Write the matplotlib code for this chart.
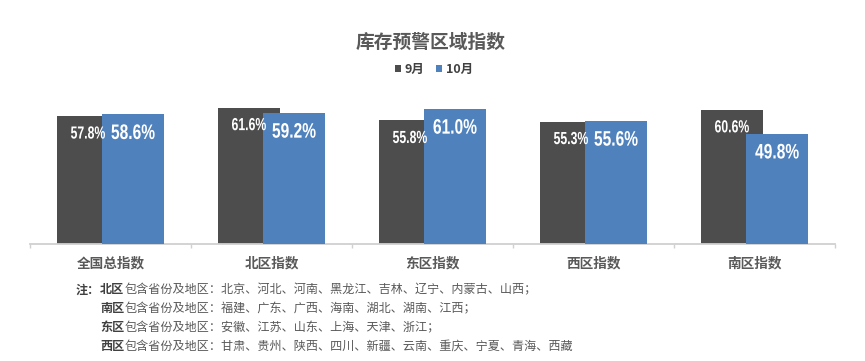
import numpy as np
import matplotlib
matplotlib.use('Agg')
import matplotlib.pyplot as plt
from matplotlib.textpath import TextPath
from matplotlib.patches import PathPatch
from matplotlib.font_manager import FontProperties
from matplotlib.transforms import Affine2D, IdentityTransform

plt.rcParams['font.family'] = ['Noto Sans CJK SC', 'DejaVu Sans']

# datos
categorias = ['全国总指数', '北区指数', '东区指数', '西区指数', '南区指数']
sep = [57.8, 61.6, 55.8, 55.3, 60.6]
octb = [58.6, 59.2, 61.0, 55.6, 49.8]
series = ['9月', '10月']

notas_region = ['北区', '南区', '东区', '西区']
notas_texto = [
    '包含省份及地区：北京、河北、河南、黑龙江、吉林、辽宁、内蒙古、山西；',
    '包含省份及地区：福建、广东、广西、海南、湖北、湖南、江西；',
    '包含省份及地区：安徽、江苏、山东、上海、天津、浙江；',
    '包含省份及地区：甘肃、贵州、陕西、四川、新疆、云南、重庆、宁夏、青海、西藏',
]

c_sep = '#4d4d4d'
c_oct = '#4f81bd'
fp_num = FontProperties(family=['Liberation Sans', 'DejaVu Sans'], weight='bold')

fig = plt.figure(figsize=(8.65, 3.61), dpi=100)
ax = fig.add_axes([30 / 865, 117 / 361, 805 / 865, 155 / 361])

x = np.arange(len(categorias))
w = 0.383
off = 0.14
b1 = ax.bar(x - off, sep, w, color=c_sep, zorder=2)
b2 = ax.bar(x + off, octb, w, color=c_oct, zorder=3)

ax.set_xlim(-0.5, len(categorias) - 0.5)
ax.set_ylim(0, 70)


# texto estrecho (tipo Impact / Narrow) dibujado como trayectoria escalada
def etiqueta_estrecha(xd, yd, s, em, sx, dy):
    tp = TextPath((0, 0), s, size=em, prop=fp_num)
    ext = tp.get_extents()
    cx = (ext.x0 + ext.x1) / 2
    cy = (ext.y0 + ext.y1) / 2
    px, py = ax.transData.transform((xd, yd))
    tr = Affine2D().translate(-cx, -cy).scale(sx, 1).translate(px, py - dy)
    ax.add_artist(PathPatch(tp, transform=tr + IdentityTransform(), facecolor='white',
                            edgecolor='none', zorder=5))


for xi, v in zip(x, sep):
    etiqueta_estrecha(xi - off, v, f'{v:.1f}%', 17.5, 0.70, 16.5)
for xi, v in zip(x, octb):
    etiqueta_estrecha(xi + off, v, f'{v:.1f}%', 21, 0.74, 17.5)

for s in ['top', 'right', 'left']:
    ax.spines[s].set_visible(False)
ax.spines['bottom'].set_color('#d0d0d0')
ax.spines['bottom'].set_linewidth(1.3)
ax.set_yticks([])
ax.set_xticks(np.arange(-0.5, len(categorias)), labels=[''] * (len(categorias) + 1))
ax.tick_params(axis='x', which='major', length=3, color='#d0d0d0', width=1)
ax.set_xticks(x, labels=categorias, minor=True)
ax.tick_params(axis='x', which='minor', length=0, pad=9, labelsize=9.8, labelcolor='#595959')
for lab in ax.get_xticklabels(minor=True):
    lab.set_fontweight('bold')

# titulo y leyenda
fig.text(431 / 865, 1 - 42 / 361, '库存预警区域指数', ha='center', va='center',
         fontsize=13.5, weight='bold', color='#595959')
fig.legend([b1, b2], series, loc='center', bbox_to_anchor=(434 / 865, 1 - 69 / 361), ncol=2,
           frameon=False, handlelength=0.5, handleheight=0.5, handletextpad=0.3, columnspacing=0.9,
           prop={'size': 9, 'weight': 'bold'}, labelcolor='#404040')

# notas
fs = 8.7
fig.text(76 / 865, 1 - 290 / 361, '注：', ha='left', va='center', fontsize=fs,
         weight='bold', color='#404040')
for i, (reg, txt) in enumerate(zip(notas_region, notas_texto)):
    y = 1 - (290 + 18.7 * i) / 361
    t = fig.text(100 / 865, y, reg, ha='left', va='center', fontsize=fs,
                 weight='bold', color='#404040')
    ax.annotate(txt, xy=(1, 0), xycoords=t, xytext=(0, 0), textcoords='offset pixels',
                ha='left', va='bottom', fontsize=fs, color='#595959', annotation_clip=False)

fig.savefig('out.png', dpi=100)
